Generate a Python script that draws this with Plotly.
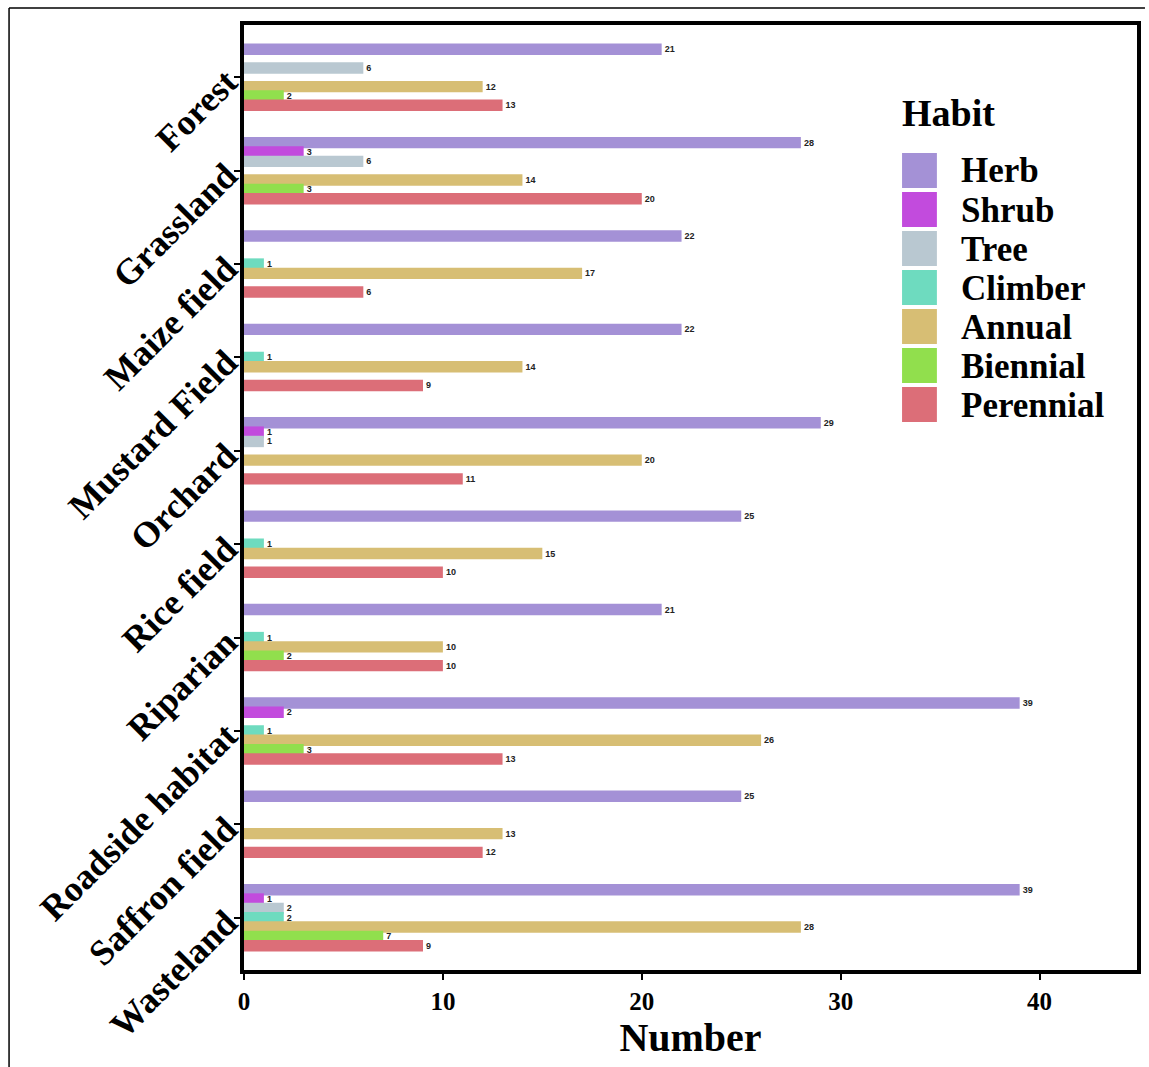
import plotly.graph_objects as go

habitats = ["Forest", "Grassland", "Maize field", "Mustard Field", "Orchard",
            "Rice field", "Riparian", "Roadside habitat", "Saffron field", "Wasteland"]
habits = ["Herb", "Shrub", "Tree", "Climber", "Annual", "Biennial", "Perennial"]
colors = ["#A491D6", "#C24BDD", "#B9C8D1", "#6EDBBF", "#D7BE74", "#91DF4D", "#DC6E78"]

herb      = [21, 28, 22, 22, 29, 25, 21, 39, 25, 39]
shrub     = [0, 3, 0, 0, 1, 0, 0, 2, 0, 1]
tree      = [6, 6, 0, 0, 1, 0, 0, 0, 0, 2]
climber   = [0, 0, 1, 1, 0, 1, 1, 1, 0, 2]
annual    = [12, 14, 17, 14, 20, 15, 10, 26, 13, 28]
biennial  = [2, 3, 0, 0, 0, 0, 2, 3, 0, 7]
perennial = [13, 20, 6, 9, 11, 10, 10, 13, 12, 9]
series = [herb, shrub, tree, climber, annual, biennial, perennial]

W, H = 1149, 1067
ML, MR, MT, MB = 244, 8, 25, 97
PW, PH = W - ML - MR, H - MT - MB

def px(x):
    return (x - ML) / PW

def py(y):
    return (H - MB - y) / PH

SERIF = "Liberation Serif"
pitch = 0.1
bw = 0.122

fig = go.Figure()
for i, (name, vals, col) in enumerate(zip(habits, series, colors)):
    fig.add_trace(go.Bar(
        y=habitats, x=vals, name=name, orientation="h",
        marker=dict(color=col, line=dict(width=0)),
        width=bw, offset=(i - 3) * pitch - bw / 2,
        text=[str(v) if v else "" for v in vals], textposition="outside",
        textfont=dict(family="Liberation Sans", size=9, color="#222222", weight="bold"),
        constraintext="none", cliponaxis=False, showlegend=False,
    ))

# legend (drawn as swatches + text, in paper coordinates)
shapes = []
annotations = []
annotations.append(dict(x=px(903), y=py(113), xref="paper", yref="paper",
                        text="<b>Habit</b>", showarrow=False, xanchor="left", yanchor="middle",
                        font=dict(family=SERIF, size=38, color="black")))
for i, (name, col) in enumerate(zip(habits, colors)):
    y0 = 153 + 39 * i
    shapes.append(dict(type="rect", xref="paper", yref="paper",
                       x0=px(905), x1=px(940), y0=py(y0), y1=py(y0 + 35),
                       fillcolor=col, line=dict(width=0)))
    annotations.append(dict(x=px(962), y=py(y0 + 18), xref="paper", yref="paper",
                            text="<b>" + name + "</b>", showarrow=False,
                            xanchor="left", yanchor="middle",
                            font=dict(family=SERIF, size=35, color="black")))

# outer frame lines (top and left)
shapes.append(dict(type="line", xref="paper", yref="paper",
                   x0=px(8), x1=px(1149), y0=py(8), y1=py(8),
                   line=dict(color="black", width=1.5)))
shapes.append(dict(type="line", xref="paper", yref="paper",
                   x0=px(8), x1=px(8), y0=py(8), y1=py(1067),
                   line=dict(color="black", width=1.5)))

fig.update_layout(
    width=W, height=H,
    margin=dict(l=ML, r=MR, t=MT, b=MB, pad=0),
    barmode="overlay",
    plot_bgcolor="white", paper_bgcolor="white",
    shapes=shapes, annotations=annotations,
    showlegend=False,
)
fig.update_xaxes(
    range=[0, 44.9], tickvals=[0, 10, 20, 30, 40],
    showline=True, mirror=True, linecolor="black", linewidth=4,
    ticks="outside", ticklen=6, tickwidth=2, tickcolor="black",
    showgrid=False, zeroline=False,
    tickfont=dict(family=SERIF, size=25, color="black", weight="bold"),
    title=dict(text="<b>Number</b>", standoff=6,
               font=dict(family=SERIF, size=40, color="black")),
)
fig.update_yaxes(
    categoryorder="array", categoryarray=habitats,
    range=[len(habitats) - 1 + 0.56, -0.56],
    showline=True, mirror=True, linecolor="black", linewidth=4,
    ticks="outside", ticklen=6, tickwidth=2, tickcolor="black",
    showgrid=False, zeroline=False, tickangle=-45,
    tickfont=dict(family=SERIF, size=36, color="black", weight="bold"),
)

fig.write_html("out.html", config={"displayModeBar": False},
               post_script="document.body.style.margin='0';document.body.style.overflow='hidden';")
